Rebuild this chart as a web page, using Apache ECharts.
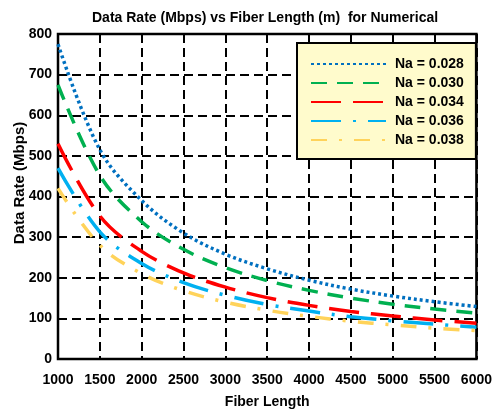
<!DOCTYPE html>
<html>
<head>
<meta charset="utf-8">
<script src="https://cdn.jsdelivr.net/npm/echarts@6/dist/echarts.min.js"></script>
<style>
html,body{margin:0;padding:0;background:#fff;}
#c{width:495px;height:414px;}
</style>
</head>
<body>
<div id="c"></div>
<script>
var fiberLength = [1000, 1500, 2000, 2500, 3000, 3500, 4000, 4500, 5000, 5500, 6000];
var na028 = [775, 515, 390, 310, 258, 222, 194, 172, 155, 141, 129];
var na030 = [675, 452, 338, 270, 225, 193, 169, 150, 135, 123, 113];
var na034 = [530, 352, 265, 212, 177, 151, 132, 117, 106, 96, 88];
var na036 = [470, 313, 235, 188, 157, 134, 118, 104, 94, 86, 78];
var na038 = [420, 280, 210, 168, 140, 120, 105, 93, 84, 76, 70];
var seriesNames = ['Na = 0.028', 'Na = 0.030', 'Na = 0.034', 'Na = 0.036', 'Na = 0.038'];

function pairs(vals) {
  return fiberLength.map(function (x, i) { return [x, vals[i]]; });
}

var FONT = '"Liberation Sans", Arial, sans-serif';
var chart = echarts.init(document.getElementById('c'), null, { renderer: 'canvas' });

var styles = [
  { color: '#0070c0', type: [3, 3] },
  { color: '#00b050', type: [16, 10] },
  { color: '#ff0000', type: [30, 12] },
  { color: '#00b0f0', type: [30, 12, 3, 12] },
  { color: '#ffd35a', type: [16, 12, 3, 12] }
];
var allVals = [na028, na030, na034, na036, na038];

var series = allVals.map(function (vals, i) {
  return {
    name: seriesNames[i],
    type: 'line',
    data: pairs(vals),
    smooth: 0.35,
    symbol: 'none',
    z: 5,
    itemStyle: { color: styles[i].color },
    lineStyle: { color: styles[i].color, width: 3.5, type: styles[i].type, cap: 'butt' }
  };
});

chart.setOption({
  animation: false,
  backgroundColor: '#fff',
  title: {
    text: 'Data Rate (Mbps) vs Fiber Length (m)  for Numerical',
    left: 92,
    top: 11,
    padding: 0,
    textStyle: { fontFamily: FONT, fontWeight: 'bold', fontSize: 14, color: '#000' }
  },
  grid: {
    left: 58, right: 16, top: 34, bottom: 44,
    show: true, borderColor: '#000', borderWidth: 2.5, backgroundColor: 'rgba(0,0,0,0)'
  },
  legend: {
    orient: 'vertical',
    left: 297,
    top: 43,
    padding: [14, 12, 12, 13],
    itemWidth: 75,
    itemHeight: 14,
    itemGap: 5,
    backgroundColor: '#fffbcc',
    borderColor: '#000',
    borderWidth: 2,
    borderRadius: 0,
    itemStyle: { opacity: 0 },
    data: seriesNames,
    textStyle: { fontFamily: FONT, fontWeight: 'bold', fontSize: 14, color: '#000', padding: [0, 0, 0, 4] }
  },
  xAxis: {
    type: 'value',
    min: 1000, max: 6000, interval: 500,
    name: 'Fiber Length',
    nameLocation: 'middle',
    nameGap: 36,
    nameTextStyle: { fontFamily: FONT, fontWeight: 'bold', fontSize: 14, color: '#000' },
    axisLine: { show: false },
    axisTick: { show: false },
    axisLabel: {
      margin: 14, fontFamily: FONT, fontWeight: 'bold', fontSize: 14, color: '#000',
      formatter: function (v) { return String(v); }
    },
    splitLine: { show: true, lineStyle: { color: '#000', width: 2, type: [9, 5] } }
  },
  yAxis: {
    type: 'value',
    min: 0, max: 800, interval: 100,
    axisLine: { show: false },
    axisTick: { show: false },
    axisLabel: { margin: 6, fontFamily: FONT, fontWeight: 'bold', fontSize: 14, color: '#000' },
    splitLine: { show: true, lineStyle: { color: '#000', width: 2, type: [9, 5] } }
  },
  graphic: [{
    type: 'text',
    x: 20, y: 183,
    rotation: Math.PI / 2,
    style: {
      text: 'Data Rate (Mbps)',
      font: 'bold 15px ' + FONT,
      fill: '#000',
      textAlign: 'center',
      textVerticalAlign: 'middle'
    }
  }],
  series: series
});
</script>
</body>
</html>
